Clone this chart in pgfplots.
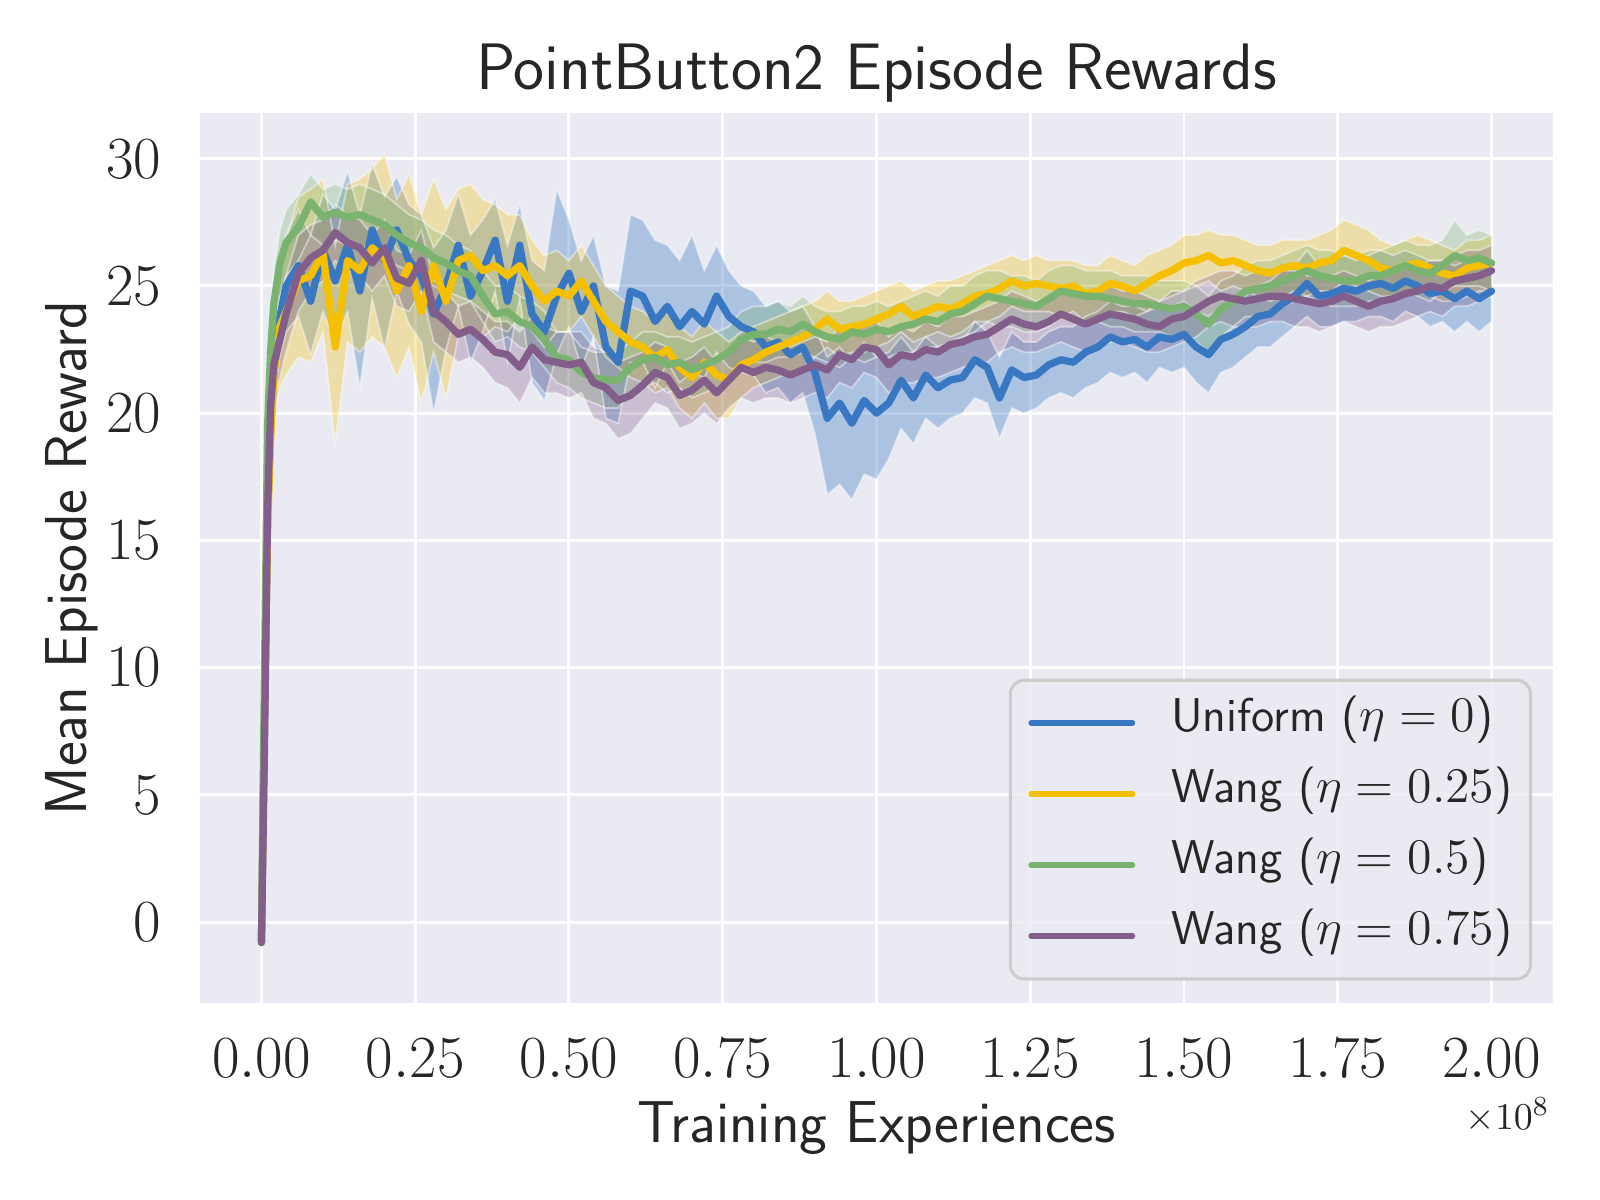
\documentclass[border=0pt]{standalone}
\usepackage{fontspec}
\usepackage{pgfplots}
\pgfplotsset{compat=1.18}
\usepackage{pgfplotstable}
\usepgfplotslibrary{fillbetween}
\definecolor{bgc}{HTML}{EAEAF2}
\definecolor{txt}{HTML}{262626}
\definecolor{cB}{HTML}{3878C2}
\definecolor{cY}{HTML}{F5C000}
\definecolor{cG}{HTML}{7AB26F}
\definecolor{cP}{HTML}{835E8A}

\pgfplotstableread{
x m lo hi
0.000 -0.8 -1.0 -0.6
0.005 8.0 7.0 9.0
0.010 16.0 15.0 17.0
0.015 19.5 18.5 20.5
0.020 21.5 20.3 22.8
0.030 23.8 22.3 25.5
0.040 25.0 23.2 27.0
0.060 25.8 23.8 28.0
0.080 24.4 22.3 27.0
0.100 26.4 24.0 28.6
0.120 25.2 22.8 28.0
0.140 26.6 24.0 29.5
0.160 24.8 21.0 27.8
0.180 27.2 24.5 29.8
0.200 26.0 22.5 28.5
0.220 27.2 24.8 29.3
0.240 26.0 23.5 28.2
0.260 25.4 22.8 27.8
0.280 23.9 20.0 26.5
0.300 25.0 22.5 27.2
0.320 26.6 24.2 28.6
0.340 24.6 22.0 27.0
0.360 25.6 23.2 27.6
0.380 26.8 24.8 28.4
0.400 24.4 22.0 26.6
0.420 26.6 24.5 28.2
0.440 23.9 21.2 26.0
0.460 23.2 20.5 25.6
0.480 24.6 22.3 28.8
0.500 25.5 23.4 27.6
0.520 24.0 21.8 26.0
0.540 25.0 23.0 27.0
0.560 22.6 19.8 25.0
0.580 22.0 19.6 24.8
0.600 24.8 22.0 27.8
0.620 24.6 22.0 27.6
0.640 23.6 21.0 26.8
0.660 24.2 22.0 26.6
0.680 23.4 21.2 26.0
0.700 24.0 21.6 27.0
0.720 23.5 21.4 25.6
0.740 24.6 22.4 26.6
0.760 23.8 21.8 25.6
0.780 23.4 21.6 25.0
0.800 23.2 21.5 24.8
0.820 22.6 20.8 24.2
0.840 22.8 21.0 24.4
0.860 22.3 20.4 24.0
0.880 22.6 20.8 24.2
0.900 21.6 19.2 23.4
0.920 19.8 16.8 22.2
0.940 20.4 17.2 22.6
0.960 19.6 16.6 22.0
0.980 20.5 17.6 22.8
1.000 20.0 17.4 22.2
1.020 20.4 18.2 22.4
1.040 21.3 19.4 23.0
1.060 20.6 18.8 22.4
1.080 21.5 19.8 23.0
1.100 21.0 19.4 22.6
1.120 21.3 19.8 22.8
1.140 21.4 20.0 22.8
1.160 22.1 20.6 23.6
1.180 21.8 20.4 23.2
1.200 20.6 19.0 22.2
1.220 21.7 20.2 23.2
1.240 21.4 20.0 22.8
1.260 21.5 20.2 22.8
1.280 21.9 20.6 23.2
1.300 22.1 20.8 23.4
1.320 22.0 20.6 23.4
1.340 22.4 21.0 23.8
1.360 22.6 21.2 24.0
1.380 23.0 21.6 24.4
1.400 22.8 21.4 24.2
1.420 22.9 21.6 24.2
1.440 22.6 21.2 24.0
1.460 23.0 21.8 24.2
1.480 22.9 21.6 24.2
1.500 23.1 21.8 24.4
1.520 22.6 21.2 24.0
1.540 22.3 20.8 23.8
1.560 22.9 21.6 24.2
1.580 23.1 21.8 24.4
1.600 23.4 22.2 24.6
1.620 23.8 22.6 25.0
1.640 23.9 22.6 25.2
1.660 24.3 23.0 25.6
1.680 24.6 23.4 25.8
1.700 25.1 23.8 26.4
1.720 24.6 23.4 25.8
1.740 24.7 23.4 26.0
1.760 24.9 23.6 26.2
1.780 24.8 23.6 26.0
1.800 25.0 23.8 26.2
1.820 25.1 23.8 26.4
1.840 24.9 23.6 26.2
1.860 25.2 24.0 26.4
1.880 25.0 23.8 26.2
1.900 24.7 23.4 26.0
1.920 24.8 23.6 26.0
1.940 24.5 23.2 25.8
1.960 24.8 23.6 26.0
1.980 24.5 23.2 25.8
2.000 24.8 23.6 26.0
}\tB

\pgfplotstableread{
x m lo hi
0.000 -0.8 -1.0 -0.6
0.005 8.0 7.0 9.0
0.010 15.5 14.0 17.0
0.015 19.0 17.5 20.5
0.020 21.5 19.8 23.2
0.030 23.4 21.0 25.6
0.040 24.0 21.5 26.8
0.060 25.2 22.2 28.5
0.080 25.4 22.0 28.8
0.100 26.3 23.2 29.2
0.120 22.6 18.8 26.6
0.140 26.0 22.8 29.0
0.160 25.6 22.4 29.2
0.180 26.5 23.0 29.6
0.200 26.1 22.6 30.2
0.220 24.8 21.4 28.4
0.240 25.8 22.6 29.4
0.260 24.0 20.4 27.8
0.280 25.8 22.4 29.2
0.300 24.4 20.6 28.0
0.320 26.0 23.0 28.8
0.340 26.2 23.4 29.0
0.360 25.6 23.0 28.4
0.380 25.8 23.4 28.2
0.400 25.4 23.2 27.8
0.420 25.8 23.8 27.8
0.440 25.0 23.2 26.8
0.460 24.4 22.6 26.2
0.480 24.8 23.2 26.4
0.500 24.6 23.2 26.0
0.520 25.2 23.8 26.6
0.540 24.4 23.0 25.8
0.560 23.6 22.2 25.0
0.580 23.2 21.8 24.6
0.600 22.8 21.4 24.2
0.620 22.6 21.2 24.0
0.640 22.2 20.8 23.6
0.660 22.5 21.0 24.0
0.680 21.8 20.2 23.4
0.700 21.4 19.8 23.0
0.720 22.0 20.4 23.6
0.740 21.5 19.8 23.2
0.760 21.3 19.8 22.8
0.780 21.9 20.6 23.2
0.800 22.1 21.0 23.4
0.820 22.4 21.2 23.6
0.840 22.6 21.4 23.8
0.860 22.8 21.6 24.0
0.880 23.0 21.8 24.2
0.900 23.3 22.2 24.4
0.920 23.7 22.6 24.8
0.940 23.3 22.2 24.4
0.960 23.4 22.4 24.4
0.980 23.5 22.4 24.6
1.000 23.7 22.6 24.8
1.020 23.9 22.8 25.0
1.040 24.2 23.2 25.2
1.060 23.8 22.8 24.8
1.080 24.0 23.0 25.0
1.100 24.2 23.2 25.2
1.120 24.1 23.0 25.2
1.140 24.3 23.2 25.4
1.160 24.6 23.6 25.6
1.180 24.7 23.6 25.8
1.200 24.9 23.8 26.0
1.220 25.2 24.2 26.2
1.240 25.0 24.0 26.0
1.260 25.1 24.0 26.2
1.280 25.0 24.0 26.0
1.300 24.9 23.8 26.0
1.320 25.0 24.0 26.0
1.340 24.7 23.6 25.8
1.360 24.8 23.8 25.8
1.380 25.1 24.0 26.2
1.400 25.0 24.0 26.0
1.420 24.8 23.8 25.8
1.440 25.1 24.0 26.2
1.460 25.4 24.4 26.4
1.480 25.6 24.6 26.6
1.500 25.9 24.8 27.0
1.520 26.0 25.0 27.0
1.540 26.2 25.2 27.2
1.560 25.9 24.8 27.0
1.580 26.0 25.0 27.0
1.600 25.8 24.8 26.8
1.620 25.6 24.6 26.6
1.640 25.5 24.4 26.6
1.660 25.7 24.6 26.8
1.680 25.8 24.8 26.8
1.700 25.7 24.6 26.8
1.720 25.9 24.8 27.0
1.740 26.0 24.8 27.2
1.760 26.4 25.2 27.6
1.780 26.2 25.0 27.4
1.800 26.0 24.8 27.2
1.820 25.7 24.6 26.8
1.840 25.6 24.6 26.6
1.860 25.8 24.8 26.8
1.880 25.9 24.8 27.0
1.900 25.7 24.6 26.8
1.920 25.5 24.4 26.6
1.940 25.4 24.4 26.4
1.960 25.7 24.6 26.8
1.980 25.8 24.8 26.8
2.000 25.9 24.8 27.0
}\tY

\pgfplotstableread{
x m lo hi
0.000 -0.8 -1.0 -0.6
0.005 10.0 9.0 11.0
0.010 19.5 18.2 20.8
0.015 22.5 21.2 23.8
0.020 24.3 23.0 25.6
0.030 25.9 24.6 27.2
0.040 26.7 25.4 28.0
0.060 27.3 26.0 28.6
0.080 28.3 27.0 29.4
0.100 27.7 26.6 28.8
0.120 27.9 26.8 29.0
0.140 27.7 26.6 28.8
0.160 27.8 26.6 29.0
0.180 27.6 26.4 28.8
0.200 27.4 26.2 28.6
0.220 27.0 25.8 28.2
0.240 26.7 25.6 27.8
0.260 26.5 25.4 27.6
0.280 26.1 25.0 27.2
0.300 25.9 24.8 27.0
0.320 25.6 24.6 26.6
0.340 25.4 24.4 26.4
0.360 24.6 23.6 25.6
0.380 23.9 22.8 25.0
0.400 24.0 23.0 25.0
0.420 23.6 22.6 24.6
0.440 23.4 22.4 24.4
0.460 22.9 21.8 24.0
0.480 22.2 21.2 23.2
0.500 22.1 21.0 23.2
0.520 21.6 20.6 22.6
0.540 21.4 20.4 22.4
0.560 21.3 20.2 22.4
0.580 21.3 20.2 22.4
0.600 21.8 20.8 22.8
0.620 22.1 21.0 23.2
0.640 22.2 21.2 23.2
0.660 21.9 20.8 23.0
0.680 22.0 21.0 23.0
0.700 21.7 20.6 22.8
0.720 21.9 20.8 23.0
0.740 22.1 21.0 23.2
0.760 22.4 21.4 23.4
0.780 22.9 21.8 24.0
0.800 23.1 22.0 24.2
0.820 23.1 22.0 24.2
0.840 23.3 22.2 24.4
0.860 23.2 22.2 24.2
0.880 23.5 22.4 24.6
0.900 23.2 22.2 24.2
0.920 23.0 22.0 24.0
0.940 22.9 21.8 24.0
0.960 23.2 22.2 24.2
0.980 23.1 22.0 24.2
1.000 23.3 22.2 24.4
1.020 23.2 22.2 24.2
1.040 23.4 22.4 24.4
1.060 23.5 22.4 24.6
1.080 23.7 22.6 24.8
1.100 23.6 22.6 24.6
1.120 23.9 22.8 25.0
1.140 24.0 23.0 25.0
1.160 24.3 23.2 25.4
1.180 24.6 23.6 25.6
1.200 24.5 23.4 25.6
1.220 24.4 23.4 25.4
1.240 24.3 23.2 25.4
1.260 24.2 23.2 25.2
1.280 24.5 23.4 25.6
1.300 24.8 23.8 25.8
1.320 24.7 23.6 25.8
1.340 24.6 23.6 25.6
1.360 24.6 23.6 25.6
1.380 24.5 23.4 25.6
1.400 24.4 23.4 25.4
1.420 24.3 23.2 25.4
1.440 24.3 23.2 25.4
1.460 24.2 23.2 25.2
1.480 24.1 23.0 25.2
1.500 24.2 23.2 25.2
1.520 23.9 22.8 25.0
1.540 23.5 22.4 24.6
1.560 24.1 23.0 25.2
1.580 24.4 23.4 25.4
1.600 24.8 23.8 25.8
1.620 24.9 23.8 26.0
1.640 25.0 24.0 26.0
1.660 25.2 24.2 26.2
1.680 25.4 24.4 26.4
1.700 25.6 24.6 26.6
1.720 25.4 24.4 26.4
1.740 25.3 24.2 26.4
1.760 25.2 24.2 26.2
1.780 25.2 24.2 26.2
1.800 25.4 24.4 26.4
1.820 25.4 24.4 26.4
1.840 25.6 24.6 26.6
1.860 25.8 24.8 26.8
1.880 25.6 24.6 26.6
1.900 25.5 24.4 26.6
1.920 25.8 24.8 26.8
1.940 26.2 25.0 27.6
1.960 26.0 25.0 27.0
1.980 26.1 25.0 27.2
2.000 25.9 24.8 27.0
}\tG

\pgfplotstableread{
x m lo hi
0.000 -0.8 -1.0 -0.6
0.005 7.0 6.0 8.0
0.010 16.2 15.0 17.4
0.015 20.3 19.0 21.6
0.020 21.9 20.6 23.2
0.030 22.9 21.4 24.4
0.040 23.9 22.4 25.4
0.060 25.5 24.0 27.0
0.080 26.1 24.8 27.4
0.100 26.4 25.2 27.6
0.120 27.1 26.0 28.2
0.140 26.7 25.6 27.8
0.160 26.5 25.4 27.6
0.180 25.9 24.8 27.0
0.200 26.5 25.4 27.6
0.220 25.3 24.2 26.4
0.240 25.1 24.0 26.2
0.260 26.0 24.8 27.2
0.280 24.0 22.8 25.2
0.300 23.6 22.4 24.8
0.320 23.1 22.0 24.2
0.340 23.3 22.2 24.4
0.360 22.9 21.8 24.0
0.380 22.4 21.2 23.6
0.400 22.3 21.0 23.6
0.420 21.8 20.4 23.2
0.440 22.6 21.4 23.8
0.460 22.1 20.8 23.4
0.480 22.0 20.8 23.2
0.500 21.9 20.6 23.2
0.520 22.0 20.8 23.2
0.540 21.2 19.8 22.6
0.560 21.0 19.6 22.4
0.580 20.5 19.0 22.0
0.600 20.7 19.2 22.2
0.620 21.1 19.8 22.4
0.640 21.6 20.4 22.8
0.660 21.4 20.2 22.6
0.680 20.7 19.4 22.0
0.700 20.9 19.6 22.2
0.720 21.3 20.0 22.6
0.740 20.8 19.6 22.0
0.760 21.3 20.2 22.4
0.780 21.8 20.6 23.0
0.800 21.6 20.4 22.8
0.820 21.8 20.6 23.0
0.840 21.7 20.6 22.8
0.860 21.5 20.4 22.6
0.880 21.7 20.6 22.8
0.900 21.9 20.8 23.0
0.920 21.7 20.6 22.8
0.940 22.3 21.2 23.4
0.960 22.1 21.0 23.2
0.980 22.6 21.6 23.6
1.000 22.5 21.4 23.6
1.020 21.9 20.8 23.0
1.040 22.3 21.2 23.4
1.060 22.2 21.2 23.2
1.080 22.5 21.4 23.6
1.100 22.4 21.4 23.4
1.120 22.7 21.6 23.8
1.140 22.8 21.8 23.8
1.160 23.0 22.0 24.0
1.180 23.1 22.0 24.2
1.200 23.4 22.4 24.4
1.220 23.7 22.6 24.8
1.240 23.5 22.4 24.6
1.260 23.4 22.4 24.4
1.280 23.6 22.6 24.6
1.300 23.9 22.8 25.0
1.320 23.7 22.6 24.8
1.340 23.5 22.4 24.6
1.360 23.7 22.6 24.8
1.380 23.9 22.8 25.0
1.400 23.8 22.8 24.8
1.420 23.7 22.6 24.8
1.440 23.5 22.4 24.6
1.460 23.4 22.4 24.4
1.480 23.7 22.6 24.8
1.500 23.8 22.8 24.8
1.520 24.1 23.0 25.2
1.540 24.4 23.4 25.4
1.560 24.6 23.6 25.6
1.580 24.5 23.4 25.6
1.600 24.4 23.4 25.4
1.620 24.5 23.4 25.6
1.640 24.6 23.6 25.6
1.660 24.6 23.6 25.6
1.680 24.5 23.4 25.6
1.700 24.4 23.4 25.4
1.720 24.3 23.2 25.4
1.740 24.4 23.4 25.4
1.760 24.6 23.6 25.6
1.780 24.4 23.4 25.4
1.800 24.2 23.2 25.2
1.820 24.4 23.4 25.4
1.840 24.5 23.4 25.6
1.860 24.7 23.6 25.8
1.880 24.8 23.8 25.8
1.900 25.0 24.0 26.0
1.920 24.9 23.8 26.0
1.940 25.2 24.2 26.2
1.960 25.3 24.2 26.4
1.980 25.4 24.4 26.4
2.000 25.6 24.6 26.6
}\tP

\begin{document}
\begin{tikzpicture}
\begin{axis}[
  at={(0,0)}, anchor=south west,
  scale only axis, width=13.75cm, height=9.05cm,
  xmin=-0.1, xmax=2.1, ymin=-3.2, ymax=31.8,
  axis background/.style={fill=bgc},
  axis line style={draw=none},
  grid=major, grid style={white, line width=0.85pt},
  major tick length=0pt,
  xtick={0,0.25,0.5,0.75,1,1.25,1.5,1.75,2},
  xticklabels={$0.00$,$0.25$,$0.50$,$0.75$,$1.00$,$1.25$,$1.50$,$1.75$,$2.00$},
  ytick={0,5,10,15,20,25,30},
  xticklabel style={anchor=base, inner sep=0pt, yshift=-0.752cm, text=txt, font=\fontsize{16.2}{19}\selectfont},
  yticklabel style={anchor=east, inner sep=0pt, xshift=-0.386cm, text=txt, font=\fontsize{16.2}{19}\selectfont},
  xlabel={Training Experiences},
  xlabel style={at={(axis description cs:0.5,-0.156)}, anchor=base, inner sep=0pt, text=txt, font=\sffamily\fontsize{17.1}{21}\selectfont},
  ylabel={Mean Episode Reward},
  ylabel style={at={(axis description cs:-0.0835,0.5)}, anchor=base, inner sep=0pt, text=txt, font=\sffamily\fontsize{17.1}{21}\selectfont},
  legend cell align=left,
  legend image code/.code={\draw[#1, line width=1.6pt] (0cm,0cm) -- (1.03cm,0cm);},
  legend style={at={(axis description cs:0.9845,0.0258)}, anchor=south east,
    fill=bgc, fill opacity=0.8, text opacity=1, draw=black!20, line width=0.9pt,
    rounded corners=4pt, inner xsep=0.183cm, inner ysep=0.26cm, row sep=0.37cm,
    text=txt, font=\sffamily\fontsize{13.7}{16}\selectfont,
    nodes={inner sep=0pt, text height=0.75em, text depth=0.25em},
    /tikz/every odd column/.style={column sep=0.366cm}},
  band/.style={draw=white, draw opacity=0.45, line width=0.5pt, forget plot},
  mean/.style={line width=2.1pt, line cap=round, line join=round},
]
% bands
\addplot[band, name path=Bh] table[x=x,y=hi]{\tB};
\addplot[band, name path=Bl] table[x=x,y=lo]{\tB};
\addplot[fill=cB, fill opacity=0.35, draw=none, forget plot] fill between[of=Bh and Bl];
\addplot[band, name path=Yh] table[x=x,y=hi]{\tY};
\addplot[band, name path=Yl] table[x=x,y=lo]{\tY};
\addplot[fill=cY, fill opacity=0.3, draw=none, forget plot] fill between[of=Yh and Yl];
\addplot[band, name path=Gh] table[x=x,y=hi]{\tG};
\addplot[band, name path=Gl] table[x=x,y=lo]{\tG};
\addplot[fill=cG, fill opacity=0.3, draw=none, forget plot] fill between[of=Gh and Gl];
\addplot[band, name path=Ph] table[x=x,y=hi]{\tP};
\addplot[band, name path=Pl] table[x=x,y=lo]{\tP};
\addplot[fill=cP, fill opacity=0.3, draw=none, forget plot] fill between[of=Ph and Pl];
% means
\addplot[mean, cB] table[x=x,y=m]{\tB};
\addlegendentry{Uniform ($\eta = 0$)}
\addplot[mean, cY] table[x=x,y=m]{\tY};
\addlegendentry{Wang ($\eta = 0.25$)}
\addplot[mean, cG] table[x=x,y=m]{\tG};
\addlegendentry{Wang ($\eta = 0.5$)}
\addplot[mean, cP] table[x=x,y=m]{\tP};
\addlegendentry{Wang ($\eta = 0.75$)}
\end{axis}
\node[anchor=base, inner sep=0pt, text=txt, font=\sffamily\fontsize{19}{23}\selectfont] at (6.875cm,9.284cm) {PointButton2 Episode Rewards};
\node[anchor=base east, inner sep=0pt, text=txt, font=\fontsize{11}{13}\selectfont] at (13.72cm,-1.28cm) {$\times10^{8}$};
\pgfresetboundingbox
\path (-2.032cm,-1.991cm) rectangle (14.228cm,10.198cm);
\end{tikzpicture}
\end{document}
